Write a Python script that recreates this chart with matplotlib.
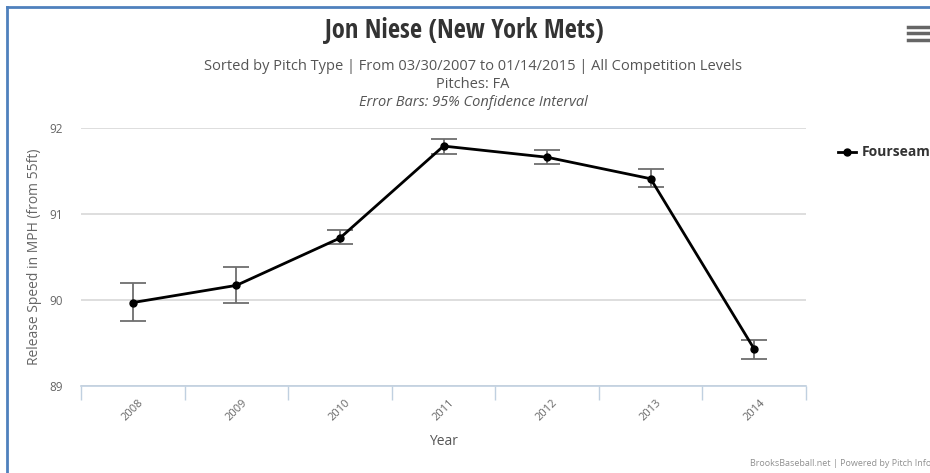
import matplotlib.pyplot as plt
from matplotlib.lines import Line2D

years = ["2008", "2009", "2010", "2011", "2012", "2013", "2014"]
speed = [89.97, 90.17, 90.72, 91.79, 91.66, 91.41, 89.43]
ci_low = [89.76, 89.97, 90.65, 91.70, 91.58, 91.31, 89.31]
ci_high = [90.20, 90.38, 90.81, 91.87, 91.74, 91.52, 89.54]

plt.rcParams['font.family'] = ['Open Sans', 'DejaVu Sans']

fig = plt.figure(figsize=(9.3, 4.73), dpi=100)
ax = fig.add_axes([81 / 930, 1 - 386 / 473, 725 / 930, 258 / 473])

x = list(range(len(years)))
err_lo = [s - l for s, l in zip(speed, ci_low)]
err_hi = [h - s for s, h in zip(speed, ci_high)]

ax.errorbar(x, speed, yerr=[err_lo, err_hi], fmt='none', ecolor='#6e6e6e',
            elinewidth=1.3, capsize=9.5, capthick=1.3, zorder=2)
ax.plot(x, speed, color='black', lw=2, marker='o', ms=5, zorder=3)

ax.set_xlim(-0.5, len(years) - 0.5)
ax.set_ylim(89, 92)
ax.set_yticks([89, 90, 91, 92])
ax.set_xticks(x)
ax.set_xticklabels(years, rotation=45, ha='center', va='top', fontsize=8, color='#666666')
ax.set_xticks([i - 0.5 for i in range(len(years) + 1)], minor=True)
ax.tick_params(axis='x', which='major', length=0, pad=8)
ax.tick_params(axis='x', which='minor', length=10, color='#C0D0E0', width=1)
ax.tick_params(axis='y', length=0, labelsize=8.5, labelcolor='#666666', pad=13)

ax.grid(axis='y', color='#D8D8D8', lw=1.2)
ax.set_axisbelow(True)
for side in ['top', 'right', 'left']:
    ax.spines[side].set_visible(False)
ax.spines['bottom'].set_color('#C0D0E0')
ax.spines['bottom'].set_linewidth(1.2)

ax.set_ylabel("Release Speed in MPH (from 55ft)", fontsize=10, color='#666666', labelpad=5)
ax.set_xlabel("Year", fontsize=10, color='#555555', labelpad=8)

fig.text(464 / 930, 1 - 31 / 473, "Jon Niese (New York Mets)", ha='center', va='center',
         fontsize=19, fontweight='bold', color='#333333', family='Open Sans Condensed')
fig.text(473 / 930, 1 - 66 / 473,
         "Sorted by Pitch Type | From 03/30/2007 to 01/14/2015 | All Competition Levels",
         ha='center', va='center', fontsize=10.5, color='#555555')
fig.text(473 / 930, 1 - 84 / 473, "Pitches: FA", ha='center', va='center',
         fontsize=10.5, color='#555555')
fig.text(473 / 930, 1 - 102 / 473, "Error Bars: 95% Confidence Interval", ha='center',
         va='center', fontsize=10.5, color='#555555', style='italic')

# legend
fig.lines.append(Line2D([838 / 930, 856 / 930], [1 - 152 / 473] * 2, color='black', lw=2,
                        transform=fig.transFigure))
fig.lines.append(Line2D([847 / 930], [1 - 152 / 473], color='black', marker='o', ms=5,
                        transform=fig.transFigure))
fig.text(862 / 930, 1 - 152 / 473, "Fourseam", ha='left', va='center', fontsize=10,
         fontweight='bold', color='#333333')

fig.text(931 / 930, 1 - 463 / 473, "BrooksBaseball.net | Powered by Pitch Info", ha='right',
         va='center', fontsize=6.5, color='#909090')

# menu icon
for yy in [27, 33, 40]:
    fig.lines.append(Line2D([908 / 930, 928 / 930], [1 - yy / 473] * 2, color='#666666',
                            lw=2.5, transform=fig.transFigure))

# blue frame
fig.lines.append(Line2D([7 / 930, 7 / 930], [0, 1 - 7 / 473], color='#4F81BD', lw=2,
                        transform=fig.transFigure))
fig.lines.append(Line2D([7 / 930, 1], [1 - 7 / 473] * 2, color='#4F81BD', lw=2,
                        transform=fig.transFigure))

fig.savefig("out.png", dpi=100)
